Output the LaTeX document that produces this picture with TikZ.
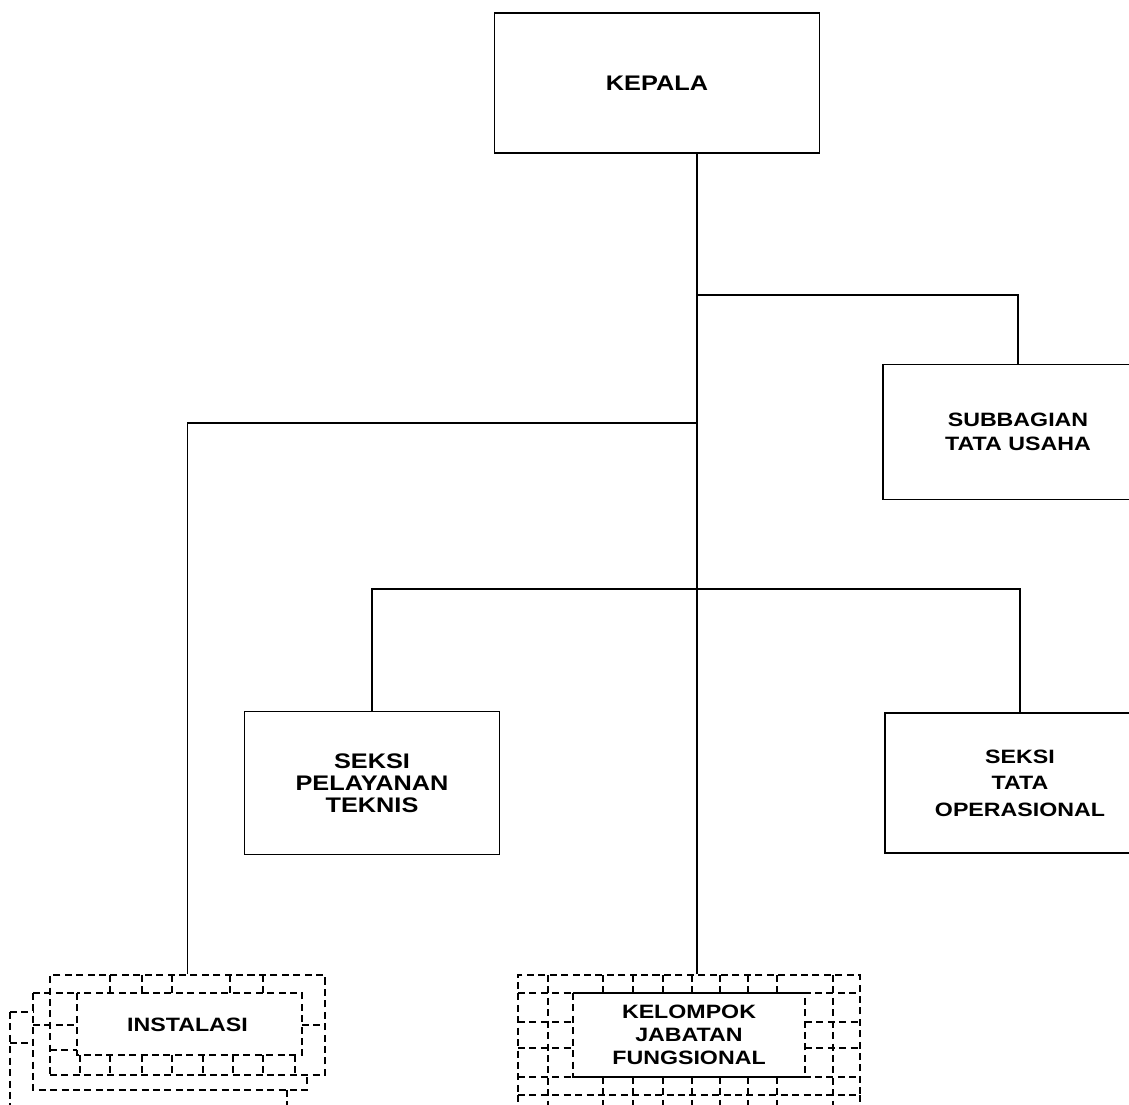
\documentclass[tikz,border=0pt]{standalone}
\usepackage{fontspec}
\setmainfont{Liberation Sans}[FakeStretch=1.2]

\begin{document}
\begin{tikzpicture}[x=0.02cm,y=-0.02cm,line width=1pt]
  \tikzstyle{unit}=[draw,rectangle,align=center,inner sep=0pt,font=\bfseries\fontsize{11}{14}\selectfont]
  \tikzstyle{dashline}=[dash pattern=on 4pt off 2.5pt]

    \useasboundingbox (0,0) rectangle (1129,1105);
    \clip (0,0) rectangle (1129,1105);

    \node[unit,minimum width=6.5cm,minimum height=2.8cm,font=\bfseries\fontsize{12}{14}\selectfont] (kepala) at (657,83) {KEPALA};
    \node[unit,minimum width=5.4cm,minimum height=2.7cm] (subbag) at (1018,432) {SUBBAGIAN\\TATA USAHA};
    \node[unit,minimum width=5.1cm,minimum height=2.86cm,font=\bfseries\fontsize{12}{12.5}\selectfont] (pelayanan) at (372,783) {SEKSI\\PELAYANAN\\TEKNIS};
    \node[unit,minimum width=5.4cm,minimum height=2.8cm,font=\bfseries\fontsize{11}{15}\selectfont] (tata) at (1020,783) {SEKSI\\TATA\\OPERASIONAL};
    \node[unit,dashline,minimum width=5.5cm,minimum height=2cm] (inst) at (187.5,1025) {INSTALASI};
    \node[unit,dashline,minimum width=6.84cm,minimum height=2.4cm,font=\bfseries\fontsize{11}{13.2}\selectfont] (kfj) at (689,1035) {KELOMPOK\\JABATAN\\FUNGSIONAL};

    \coordinate (trunk) at (697,0);
    \coordinate (bar1) at (0,295);
    \coordinate (bar2) at (0,423);
    \coordinate (bar3) at (0,589);

    \draw (trunk |- kepala.south) -- (trunk |- kfj.north);
    \draw (trunk |- bar1) -| (subbag.north);
    \draw (trunk |- bar2) -| (inst.north);
    \draw (pelayanan.north) |- (bar3 -| tata.north) -- (tata.north);

    % instalasi, stacked frames
    \draw[dashline] (77,993) rectangle (302,1055);
    \draw[dashline] (110,975) -- (110,993) (142,975) -- (142,993) (172,975) -- (172,993)
      (230,975) -- (230,993) (263,975) -- (263,993);
    \draw[dashline] (80,1055) -- (80,1075) (110,1055) -- (110,1075) (142,1055) -- (142,1075)
      (172,1055) -- (172,1075) (203,1055) -- (203,1075) (233,1055) -- (233,1075)
      (263,1055) -- (263,1075) (295,1055) -- (295,1075);
    \draw[dashline] (50,1050) -- (77,1050) (302,1025) -- (325,1025);
    \draw[dashline] (33,993) -- (77,993) (33,1025) -- (77,1025);
    \draw[dashline] (33,993) -- (33,1090) -- (307,1090) -- (307,1075);
    \draw[dashline] (10,1012) -- (10,1110) (10,1012) -- (33,1012) (10,1043) -- (33,1043);
    \draw[dashline] (287,1090) -- (287,1110);

    % kelompok jabatan fungsional, grid frame
    \draw[dashline] (573,993) rectangle (805,1077);
    \draw[dashline] (518,993) -- (860,993) (518,1077) -- (860,1077);
    \draw[dashline] (548,975) -- (548,1110) (833,975) -- (833,1110);
    \draw[dashline] (518,1022) -- (573,1022) (518,1048) -- (573,1048)
      (805,1022) -- (860,1022) (805,1048) -- (860,1048);
    \draw[dashline] (603,975) -- (603,993) (633,975) -- (633,993) (663,975) -- (663,993)
      (692,975) -- (692,993) (720,975) -- (720,993) (748,975) -- (748,993) (777,975) -- (777,993);
    \draw[dashline] (603,1077) -- (603,1110) (633,1077) -- (633,1110) (663,1077) -- (663,1110)
      (692,1077) -- (692,1110) (720,1077) -- (720,1110) (748,1077) -- (748,1110) (777,1077) -- (777,1110);
    \draw[dashline] (518,1095) -- (518,1110) (860,1095) -- (860,1110);

\end{tikzpicture}
\end{document}
